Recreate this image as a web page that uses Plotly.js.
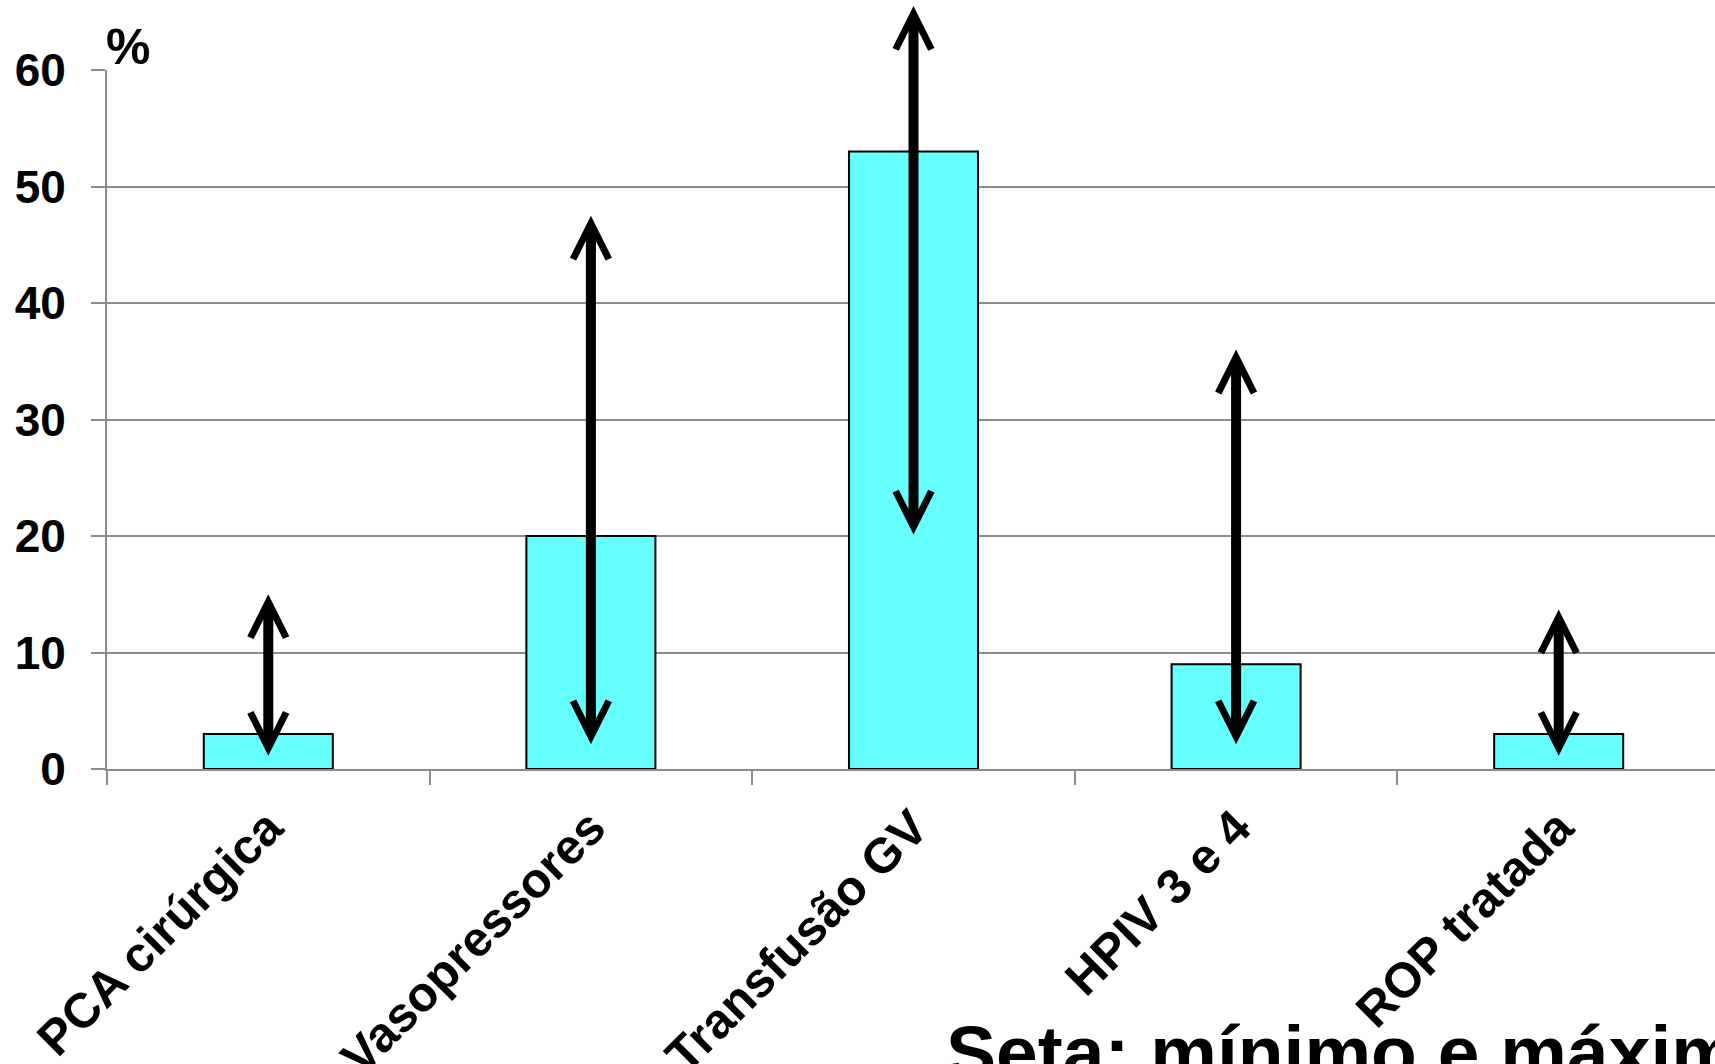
<!DOCTYPE html>
<html>
<head>
<meta charset="utf-8">
<script src="https://cdn.plot.ly/plotly-3.0.1.min.js"></script>
<style>html,body{margin:0;padding:0;background:#fff;overflow:hidden}#chart{width:1715px;height:1064px}</style>
</head>
<body>
<div id="chart"></div>
<script>
// Data
const categories = ["PCA cirúrgica", "Vasopressores", "Transfusão GV", "HPIV 3 e 4", "ROP tratada"];
const values = [3, 20, 53, 9, 3];          // bar heights (%)
const minimum = [1, 2, 20, 2, 1];          // arrow lower end (%)
const maximum = [15, 47.5, 65.5, 36, 13.7]; // arrow upper end (%)
const yTicks = [0, 10, 20, 30, 40, 50, 60];
const unitLabel = "%";
const noteText = "Seta: mínimo e máximo";

const FONT = "Liberation Sans, Arial, Helvetica, sans-serif";

const bar = {
  type: "bar",
  x: categories,
  y: values,
  width: 0.4,
  marker: {color: "#66FFFF", line: {color: "#000000", width: 2}},
  hoverinfo: "x+y"
};

const arrows = categories.map((c, i) => ({
  xref: "x", yref: "y", axref: "x", ayref: "y",
  x: c, y: maximum[i], ax: c, ay: minimum[i],
  text: "", showarrow: true,
  arrowside: "end+start",
  arrowhead: 5, startarrowhead: 5,
  arrowwidth: 10, arrowsize: 0.7, startarrowsize: 0.7,
  arrowcolor: "#000000",
  standoff: 0, startstandoff: 0
}));

const texts = [
  {xref: "paper", yref: "paper", x: 0, y: 1, xanchor: "left", yanchor: "bottom",
   xshift: -3, yshift: -7,
   text: unitLabel, showarrow: false, font: {family: FONT, size: 50, color: "#000", weight: "bold"}},
  {xref: "paper", yref: "paper", x: 0.5205, y: -0.342, xanchor: "left", yanchor: "top",
   text: noteText, showarrow: false, font: {family: FONT, size: 75, color: "#000", weight: "bold"}}
];

const layout = {
  width: 1715, height: 1064,
  margin: {l: 107, r: 0, t: 70, b: 294.7, pad: 0},
  paper_bgcolor: "#ffffff", plot_bgcolor: "#ffffff",
  showlegend: false,
  font: {family: FONT, color: "#000"},
  xaxis: {
    type: "category",
    range: [-0.5, 4.4845],
    tickson: "boundaries",
    ticks: "outside", ticklen: 14, tickwidth: 2, tickcolor: "#8c8c8c",
    showline: true, linecolor: "#8c8c8c", linewidth: 2,
    showgrid: false, zeroline: false,
    tickangle: -45,
    ticklabelstandoff: 8,
    tickfont: {family: FONT, size: 49, color: "#000", weight: "bold"}
  },
  yaxis: {
    range: [0, 60],
    tickvals: yTicks, ticktext: yTicks.map(String),
    ticks: "outside", ticklen: 14, tickwidth: 2, tickcolor: "#8c8c8c",
    showline: true, linecolor: "#8c8c8c", linewidth: 2,
    showgrid: true, gridcolor: "#8c8c8c", gridwidth: 2,
    zeroline: false,
    ticklabelstandoff: 16,
    tickfont: {family: FONT, size: 46, color: "#000", weight: "bold"}
  },
  annotations: arrows.concat(texts)
};

Plotly.newPlot("chart", [bar], layout, {displayModeBar: false, staticPlot: true});
</script>
</body>
</html>
